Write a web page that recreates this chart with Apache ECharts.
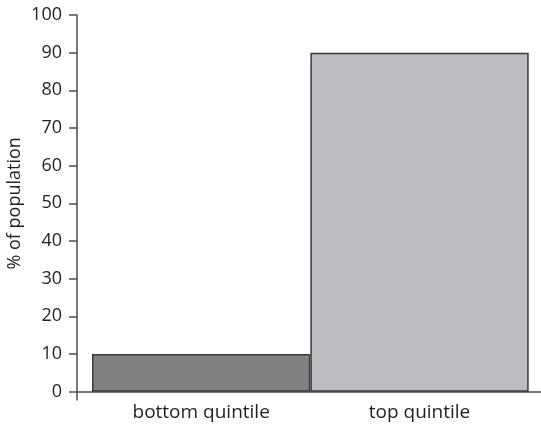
<!DOCTYPE html>
<html>
<head>
<meta charset="utf-8">
<script src="https://cdn.jsdelivr.net/npm/echarts@6/dist/echarts.min.js"></script>
<style>
html,body{margin:0;padding:0;background:#fff;}
#chart{width:541px;height:428px;}
</style>
</head>
<body>
<div id="chart"></div>
<script>
const categories = ['bottom quintile', 'top quintile'];
const values = [10, 90];
const barColors = ['#818184', '#bcbdc0'];
const yMin = 0, yMax = 100, yInterval = 10;
const yName = '% of population';

const chart = echarts.init(document.getElementById('chart'), null, {renderer: 'canvas'});
const textColor = '#231f20';
const axisColor = '#4d4d4f';
const font = 'Open Sans';
const fs = 18;

chart.setOption({
  animation: false,
  grid: [
    {left: 92, right: 12.3, top: 15, bottom: 36.3, containLabel: false, outerBoundsMode: 'none'},
    {left: 77, right: 0, top: 15, bottom: 28, containLabel: false, outerBoundsMode: 'none'}
  ],
  xAxis: [
    {
      gridIndex: 0, type: 'category', data: categories,
      axisLine: {show: false}, axisTick: {show: false},
      axisLabel: {color: textColor, fontFamily: font, fontSize: 19, margin: 11}
    },
    {
      gridIndex: 1, type: 'value', min: 0, max: 1,
      axisLine: {show: true, onZero: true, lineStyle: {color: axisColor, width: 1.5}},
      axisTick: {show: false}, axisLabel: {show: false}, splitLine: {show: false}
    }
  ],
  yAxis: [
    {
      gridIndex: 0, type: 'value', min: yMin, max: yMax, interval: yInterval,
      offset: 15,
      name: yName, nameLocation: 'middle', nameGap: 53, nameMoveOverlap: false,
      nameTextStyle: {color: textColor, fontFamily: font, fontSize: fs},
      axisLine: {show: false},
      axisTick: {show: true, inside: false, length: 8, lineStyle: {color: axisColor, width: 1.5}},
      axisLabel: {color: textColor, fontFamily: font, fontSize: fs, margin: 15},
      splitLine: {show: false}
    },
    {
      gridIndex: 1, type: 'value', min: -2.2, max: 100,
      axisLine: {show: true, lineStyle: {color: axisColor, width: 1.5}},
      axisTick: {show: false}, axisLabel: {show: false}, splitLine: {show: false}
    }
  ],
  series: [
    {
      type: 'bar', xAxisIndex: 0, yAxisIndex: 0,
      barCategoryGap: 0,
      data: values.map((v, i) => ({value: v, itemStyle: {color: barColors[i]}})),
      itemStyle: {borderColor: '#3a3a3c', borderWidth: 1.5}
    }
  ]
});
</script>
</body>
</html>
